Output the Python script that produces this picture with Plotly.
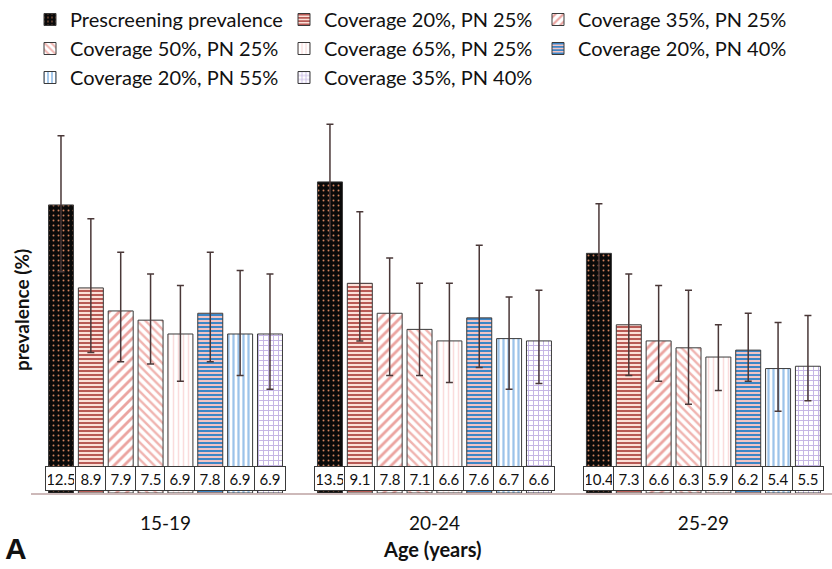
import plotly.graph_objects as go

# Age groups on the x axis
age_groups = ["15-19", "20-24", "25-29"]

# Scenario names (legend order)
scenarios = [
    "Prescreening prevalence",
    "Coverage 20%, PN 25%",
    "Coverage 35%, PN 25%",
    "Coverage 50%, PN 25%",
    "Coverage 65%, PN 25%",
    "Coverage 20%, PN 40%",
    "Coverage 20%, PN 55%",
    "Coverage 35%, PN 40%",
]

# Prevalence (%) per scenario, one value per age group
prev_prescreening = [12.5, 13.5, 10.4]
prev_c20_pn25 = [8.9, 9.1, 7.3]
prev_c35_pn25 = [7.9, 7.8, 6.6]
prev_c50_pn25 = [7.5, 7.1, 6.3]
prev_c65_pn25 = [6.9, 6.6, 5.9]
prev_c20_pn40 = [7.8, 7.6, 6.2]
prev_c20_pn55 = [6.9, 6.7, 5.4]
prev_c35_pn40 = [6.9, 6.6, 5.5]

# Upper and lower bounds of the uncertainty intervals
hi_prescreening = [15.5, 16.0, 12.55]
lo_prescreening = [9.6, 11.0, 8.3]
hi_c20_pn25 = [11.9, 12.2, 9.5]
lo_c20_pn25 = [6.1, 6.6, 5.1]
hi_c35_pn25 = [10.45, 10.2, 9.0]
lo_c35_pn25 = [5.7, 5.1, 4.85]
hi_c50_pn25 = [9.5, 9.1, 8.8]
lo_c50_pn25 = [5.6, 5.1, 3.85]
hi_c65_pn25 = [9.0, 9.1, 7.3]
lo_c65_pn25 = [4.85, 4.8, 4.45]
hi_c20_pn40 = [10.45, 10.75, 7.8]
lo_c20_pn40 = [5.7, 5.45, 4.85]
hi_c20_pn55 = [9.65, 8.5, 7.4]
lo_c20_pn55 = [5.1, 4.5, 3.55]
hi_c35_pn40 = [9.5, 8.8, 7.7]
lo_c35_pn40 = [4.5, 4.75, 4.0]

values = [prev_prescreening, prev_c20_pn25, prev_c35_pn25, prev_c50_pn25,
          prev_c65_pn25, prev_c20_pn40, prev_c20_pn55, prev_c35_pn40]
upper = [hi_prescreening, hi_c20_pn25, hi_c35_pn25, hi_c50_pn25,
         hi_c65_pn25, hi_c20_pn40, hi_c20_pn55, hi_c35_pn40]
lower = [lo_prescreening, lo_c20_pn25, lo_c35_pn25, lo_c50_pn25,
         lo_c65_pn25, lo_c20_pn40, lo_c20_pn55, lo_c35_pn40]

# Fill patterns for each scenario
patterns = [
    dict(shape=".", fgcolor="#d0825e", bgcolor="#0a0a0a", size=5, solidity=0.12, fillmode="replace"),
    dict(shape="-", fgcolor="#b85a55", bgcolor="#fbe0d8", size=4, solidity=0.5, fillmode="replace"),
    dict(shape="/", fgcolor="#eba4a0", bgcolor="#ffffff", size=7, solidity=0.4, fillmode="replace"),
    dict(shape="\\", fgcolor="#f0b4b0", bgcolor="#ffffff", size=6, solidity=0.4, fillmode="replace"),
    dict(shape="|", fgcolor="#fadcdc", bgcolor="#ffffff", size=5, solidity=0.3, fillmode="replace"),
    dict(shape="-", fgcolor="#3d86c6", bgcolor="#f2c4c4", size=4, solidity=0.5, fillmode="replace"),
    dict(shape="|", fgcolor="#9cc3ea", bgcolor="#ffffff", size=5, solidity=0.45, fillmode="replace"),
    dict(shape="+", fgcolor="#c4b4e4", bgcolor="#ffffff", size=5, solidity=0.35, fillmode="replace"),
]

FONT = "Lato"
BARGAP = 0.112
GROUPGAP = 0.163
W, H = 832, 569
ML, MR, MT, MB = 31, 0, 113, 76


def px_to_paper(px, py):
    """Convert a pixel position on the page to paper coordinates."""
    return (px - ML) / (W - ML - MR), (H - MB - py) / (H - MT - MB)


fig = go.Figure()
for name, vals, hi, lo, pat in zip(scenarios, values, upper, lower, patterns):
    fig.add_trace(go.Bar(
        name=name,
        x=age_groups,
        y=vals,
        marker=dict(pattern=pat, line=dict(color="#3a3a3a", width=1)),
        error_y=dict(
            type="data",
            symmetric=False,
            array=[h - v for h, v in zip(hi, vals)],
            arrayminus=[v - l for v, l in zip(vals, lo)],
            color="#4a3838",
            thickness=1.5,
            width=3.5,
        ),
    ))

# Boxed value labels near the base of each bar
n = len(scenarios)
slot = (1 - BARGAP) / n
annotations = []
for k, vals in enumerate(values):
    for gi, v in enumerate(vals):
        annotations.append(dict(
            x=gi + (k - (n - 1) / 2) * slot, y=0, xref="x", yref="y",
            text=f"{v:.1f}", showarrow=False, yanchor="bottom", yshift=2,
            font=dict(family=FONT, size=15, color="#111111"),
            bgcolor="#ffffff", bordercolor="#3a3a3a", borderwidth=1,
            borderpad=2, width=26, height=19,
        ))

ytx, yty = px_to_paper(21, 310)
axx, axy = px_to_paper(432, 549)
ax_, ay_ = px_to_paper(16, 548)
annotations += [
    dict(text="<b>prevalence (%)</b>", xref="paper", yref="paper",
         x=ytx, y=yty, xanchor="center", yanchor="middle",
         textangle=-90, showarrow=False,
         font=dict(family=FONT, size=19, color="#111111")),
    dict(text="<b>Age (years)</b>", xref="paper", yref="paper",
         x=axx, y=axy, xanchor="center", yanchor="middle", showarrow=False,
         font=dict(family=FONT, size=20, color="#111111")),
    dict(text="<b>A</b>", xref="paper", yref="paper",
         x=ax_, y=ay_, xanchor="center", yanchor="middle", showarrow=False,
         font=dict(family="Liberation Sans", size=30, color="#111111")),
]

fig.update_layout(
    width=W, height=H,
    margin=dict(l=ML, r=MR, t=MT, b=MB),
    paper_bgcolor="white", plot_bgcolor="white",
    barmode="group", bargap=BARGAP, bargroupgap=GROUPGAP,
    font=dict(family=FONT, color="#111111"),
    showlegend=True,
    legend=dict(
        orientation="h", xref="container", yref="container",
        x=30 / W, y=1.0, xanchor="left", yanchor="top",
        font=dict(family=FONT, size=20, color="#111111"),
        entrywidth=209, entrywidthmode="pixels",
        traceorder="normal", itemwidth=30, tracegroupgap=0,
    ),
    xaxis=dict(
        type="category", range=[-0.5, 2.478],
        showline=True, linecolor="#cdb9b9", linewidth=1.5,
        ticks="outside", ticklen=12, tickcolor="rgba(0,0,0,0)",
        showgrid=False, zeroline=False,
        tickfont=dict(family=FONT, size=19, color="#111111"),
    ),
    yaxis=dict(range=[0, 16.49], showticklabels=False, showgrid=False,
               zeroline=False, showline=False, ticks=""),
    annotations=annotations,
)

fig.write_html("out.html")
